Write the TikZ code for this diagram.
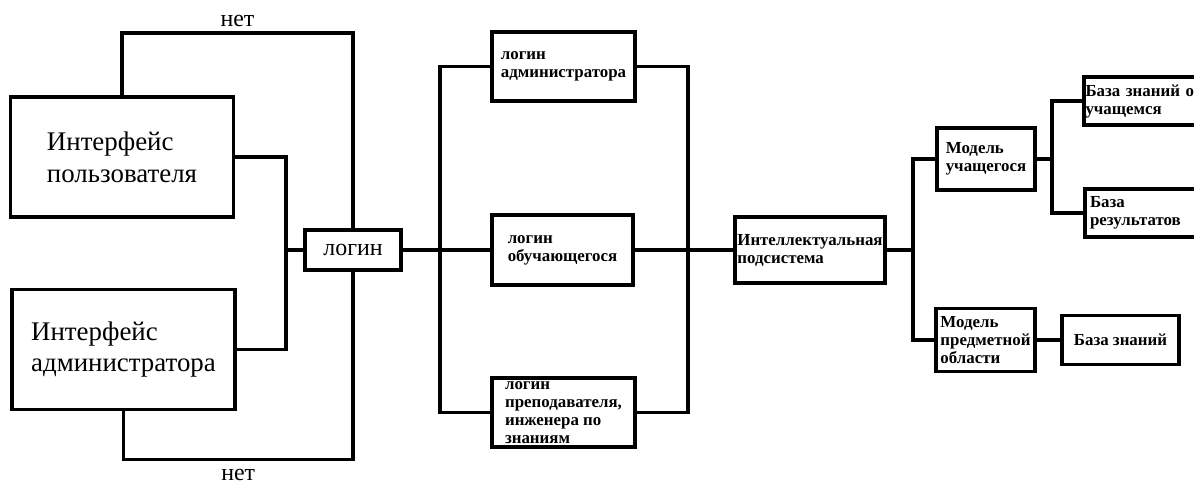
\documentclass[tikz,border=0pt]{standalone}
\usepackage{fontspec}
\setmainfont{Liberation Serif}
\usetikzlibrary{positioning,calc}

\begin{document}
\begin{tikzpicture}[
  x=0.02cm, y=-0.02cm,
  block/.style={draw, rectangle, line width=2pt, align=left, inner sep=0pt},
  bigbox/.style={block, minimum width=4.46cm, minimum height=2.41cm,
                 font=\fontsize{15.3}{18.1}\selectfont},
  smallbox/.style={block, font=\fontsize{9.6}{10.2}\selectfont\bfseries},
  line/.style={line width=2pt}
]
\useasboundingbox (0,0) rectangle (1194,486);

% Left side: interfaces and login
\node[bigbox] (user) at (122,157) {Интерфейс\\пользователя};
\node[bigbox] (admin) at (123.5,349.5) {Интерфейс\\администратора};
\node[block, minimum width=1.92cm, minimum height=0.8cm,
      font=\fontsize{13.6}{16}\selectfont] (login) at (353,250) {логин};

% Logins
\node[smallbox, minimum width=2.86cm, minimum height=1.38cm] (ladmin) at (563.5,66.5)
  {логин\\администратора};
\node[smallbox, minimum width=2.82cm, minimum height=1.4cm] (lstud) at (562.5,250)
  {логин\\обучающегося};
\node[smallbox, minimum width=2.86cm, minimum height=1.38cm] (lteach) at (563.5,412.5)
  {логин\\преподавателя,\\инженера по\\знаниям};

% Intelligent subsystem
\node[smallbox, minimum width=3cm, minimum height=1.32cm] (intel) at (810,250)
  {Интеллектуальная\\подсистема};
\node[smallbox, minimum width=1.96cm, minimum height=1.24cm] (mstud) at (986,159)
  {Модель\\учащегося};
\node[smallbox, minimum width=1.98cm, minimum height=1.26cm] (mdom) at (985.5,340)
  {Модель\\предметной\\области};

% Knowledge bases
\node[smallbox, anchor=west, text width=3cm, inner xsep=1pt, minimum height=0.96cm]
  (kbstud) at (1082,101) {База знаний об\\учащемся};
\node[smallbox, anchor=west, text width=3cm, inner xsep=3pt, minimum height=0.96cm]
  (kbres) at (1083,213) {База\\результатов};
\node[smallbox, minimum width=2.34cm, minimum height=0.98cm] (kb) at (1120.5,340)
  {База знаний};

% Junctions
\coordinate (jn) at (286,250);
\coordinate (lt) at (440,250);
\coordinate (rt) at (688,250);
\coordinate (it) at (913,250);
\coordinate (mt) at (1052,159);

% Connectors
\draw[line] (user.north) -- ++(0,-62) -| (login.north)
  node[pos=0.25, above=-1pt, font=\fontsize{13.6}{16}\selectfont] {нет};
\draw[line] (admin.south) -- ++(0,48) -| (login.south)
  node[pos=0.25, below=1pt, font=\fontsize{13.6}{16}\selectfont] {нет};
\draw[line] (user.east) -| (jn) |- (admin.east);
\draw[line] (jn) -- (login.west);
\draw[line] (login.east) -- (lstud.west);
\draw[line] (ladmin.west) -| (lt) |- (lteach.west);
\draw[line] (lstud.east) -- (intel.west);
\draw[line] (ladmin.east) -| (rt) |- (lteach.east);
\draw[line] (intel.east) -- (it);
\draw[line] (mstud.west) -| (it) |- (mdom.west);
\draw[line] (mstud.east) -- (mt);
\draw[line] (kbstud.west) -| (mt) |- (kbres.west);
\draw[line] (mdom.east) -- (kb.west);

\end{tikzpicture}
\end{document}
